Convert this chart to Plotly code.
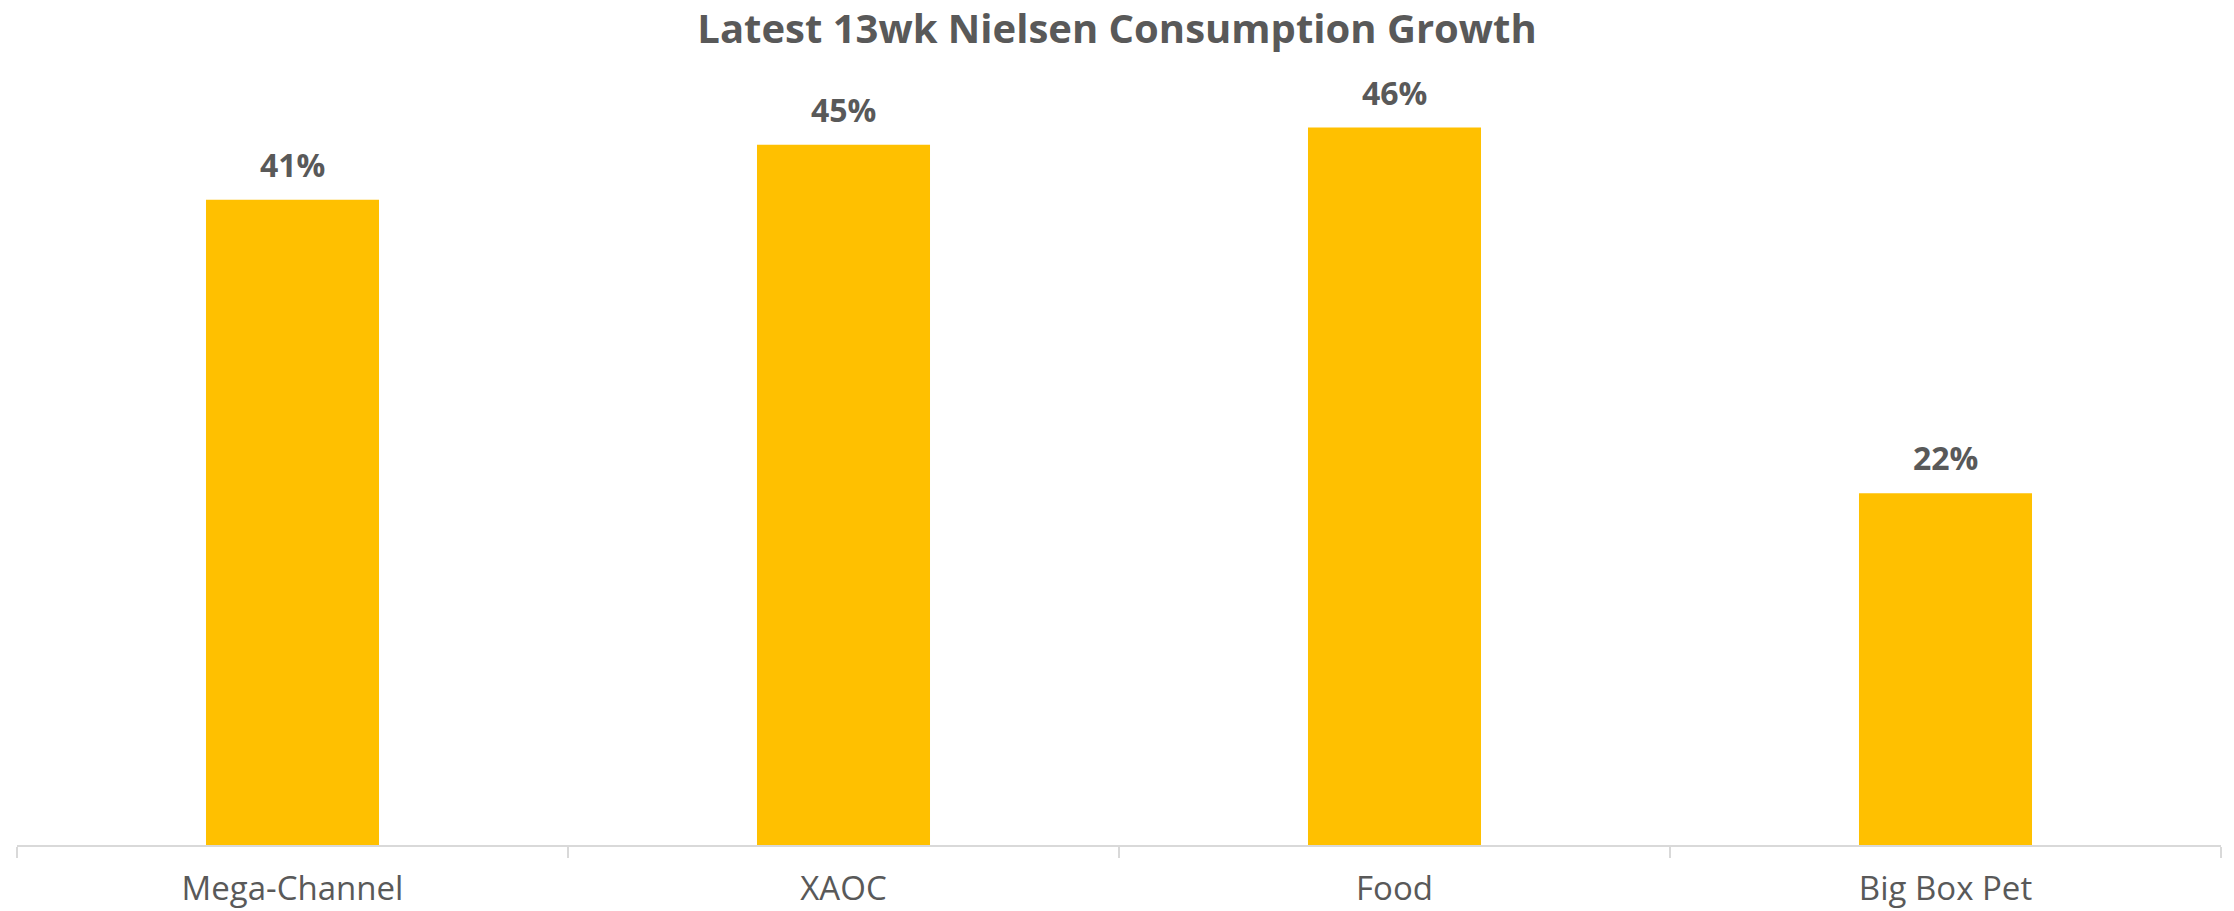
import plotly.graph_objects as go

categories = ["Mega-Channel", "XAOC", "Food", "Big Box Pet"]
growth = [0.411, 0.446, 0.457, 0.224]
value_labels = ["41%", "45%", "46%", "22%"]
title_text = "Latest 13wk Nielsen Consumption Growth"

TEXT = "#595959"
BAR = "#FFC000"
FONT = "Open Sans"

fig = go.Figure(
    go.Bar(
        x=categories,
        y=growth,
        marker=dict(color=BAR, line=dict(width=0)),
        hoverinfo="skip",
    )
)

for c, v, lab in zip(categories, growth, value_labels):
    fig.add_annotation(
        x=c,
        y=v,
        text=f"<b>{lab}</b>",
        showarrow=False,
        yanchor="bottom",
        yshift=12,
        font=dict(family=FONT, size=32, color=TEXT),
    )

fig.update_layout(
    width=2234,
    height=911,
    margin=dict(l=17, r=13, t=60, b=66, autoexpand=False),
    paper_bgcolor="white",
    plot_bgcolor="white",
    bargap=0.686,
    showlegend=False,
    title=dict(
        text=f"<b>{title_text}</b>",
        x=0.5,
        xanchor="center",
        y=1 - 29 / 911,
        yanchor="middle",
        font=dict(family=FONT, size=40, color=TEXT),
    ),
    xaxis=dict(
        automargin=False,
        showline=True,
        linecolor="#d9d9d9",
        linewidth=2,
        ticks="outside",
        tickson="boundaries",
        ticklen=11,
        tickcolor="#d9d9d9",
        tickwidth=2,
        ticklabelstandoff=13,
        tickfont=dict(family=FONT, size=33, color=TEXT),
        showgrid=False,
        zeroline=False,
    ),
    yaxis=dict(
        automargin=False,
        range=[0, 0.5],
        visible=False,
        showgrid=False,
        zeroline=False,
    ),
)

fig.write_html(
    "out.html",
    config={"displayModeBar": False},
    post_script="document.body.style.margin='0';",
)
